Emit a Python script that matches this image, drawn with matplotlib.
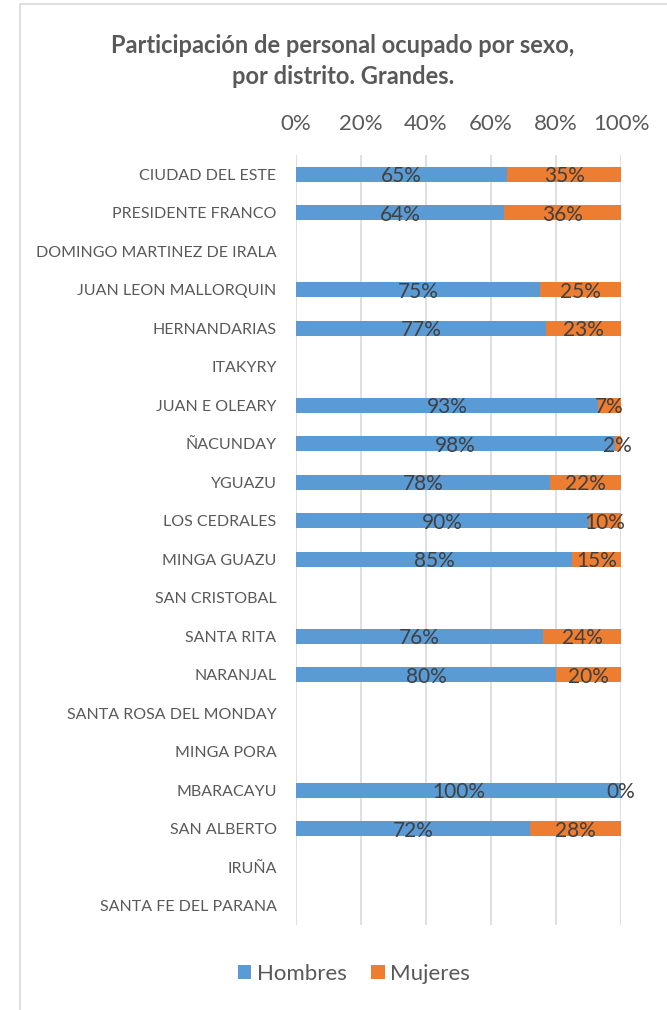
import numpy as np
import matplotlib

matplotlib.use("Agg")
import matplotlib.pyplot as plt  # noqa: E402
from matplotlib.patches import Rectangle  # noqa: E402

districts = [
    "CIUDAD DEL ESTE", "PRESIDENTE FRANCO", "DOMINGO MARTINEZ DE IRALA",
    "JUAN LEON MALLORQUIN", "HERNANDARIAS", "ITAKYRY", "JUAN E OLEARY",
    "ÑACUNDAY", "YGUAZU", "LOS CEDRALES", "MINGA GUAZU", "SAN CRISTOBAL",
    "SANTA RITA", "NARANJAL", "SANTA ROSA DEL MONDAY", "MINGA PORA",
    "MBARACAYU", "SAN ALBERTO", "IRUÑA", "SANTA FE DEL PARANA",
]
# percent of employed staff; None = no data for the district
hombres = [65, 64, None, 75, 77, None, 93, 98, 78, 90, 85, None,
           76, 80, None, None, 100, 72, None, None]
mujeres = [35, 36, None, 25, 23, None, 7, 2, 22, 10, 15, None,
           24, 20, None, None, 0, 28, None, None]
ticks = [0, 20, 40, 60, 80, 100]

BLUE = "#5B9BD5"
ORANGE = "#ED7D31"
TXT = "#595959"
LBL = "#404040"
plt.rcParams["font.family"] = ["Lato", "DejaVu Sans"]

fig = plt.figure(figsize=(6.67, 10.1), dpi=100)
ax = fig.add_axes([296 / 667, 1 - 925 / 1010, 325 / 667, 770 / 1010])

# chart frame
fig.patches.append(Rectangle((20 / 667, -0.05), 1.0, 1 - 4 / 1010 + 0.05,
                             transform=fig.transFigure, fill=False,
                             edgecolor="#D9D9D9", linewidth=1.2))

y = np.arange(len(districts))
h = np.array([np.nan if v is None else v for v in hombres], dtype=float)
m = np.array([np.nan if v is None else v for v in mujeres], dtype=float)

ax.barh(y, np.nan_to_num(h), height=0.4, color=BLUE, label="Hombres", zorder=2)
ax.barh(y, np.nan_to_num(m), left=np.nan_to_num(h), height=0.4,
        color=ORANGE, label="Mujeres", zorder=2)

for i in range(len(districts)):
    if np.isnan(h[i]):
        continue
    ax.text(h[i] / 2, i + 0.05, f"{h[i]:.0f}%", ha="center", va="center",
            fontsize=15, color=LBL, zorder=3)
    ax.text(h[i] + m[i] / 2, i + 0.05, f"{m[i]:.0f}%", ha="center",
            va="center", fontsize=15, color=LBL, zorder=3)

ax.set_xlim(0, 100)
ax.set_ylim(len(districts) - 0.5, -0.5)
ax.set_yticks(y)
ax.set_yticklabels(districts, fontsize=11.5, color=TXT)
ax.set_xticks(ticks)
ax.set_xticklabels([f"{t}%" for t in ticks], fontsize=16, color=TXT)
ax.xaxis.tick_top()
ax.tick_params(axis="x", length=0, pad=15)
ax.tick_params(axis="y", length=0, pad=14)
ax.grid(axis="x", color="#D9D9D9", linewidth=1.2, zorder=0)
for s in ax.spines.values():
    s.set_visible(False)

fig.text(343 / 667, 1 - 61 / 1010,
         "Participación de personal ocupado por sexo,\npor distrito. Grandes.",
         ha="center", va="center", fontsize=17, fontweight="bold",
         color=TXT, linespacing=1.45)

leg = fig.legend(loc="center", bbox_to_anchor=(354 / 667, 1 - 974 / 1010),
                 ncol=2, frameon=False, fontsize=16, handlelength=0.6,
                 handleheight=0.6, handletextpad=0.25, columnspacing=1.1)
for t in leg.get_texts():
    t.set_color(TXT)

fig.savefig("out.png", dpi=100)
